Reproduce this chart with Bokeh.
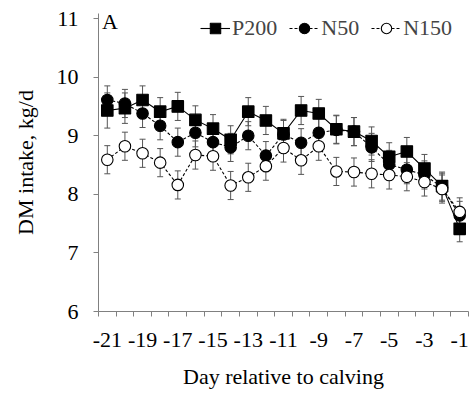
from bokeh.plotting import figure
from bokeh.models import FixedTicker, Whisker, ColumnDataSource, Legend, LegendItem, Label
from bokeh.embed import file_html
from bokeh.resources import INLINE

days = list(range(-21, 0))
p200 = [9.43, 9.47, 9.61, 9.41, 9.50, 9.27, 9.12, 8.93, 9.41, 9.26, 9.04, 9.43, 9.38, 9.11, 9.07, 8.91, 8.64, 8.73, 8.44, 8.14, 7.41]
n50 = [9.61, 9.55, 9.38, 9.17, 8.89, 9.05, 8.89, 8.80, 9.00, 8.66, 9.02, 8.88, 9.05, 9.10, 9.07, 8.80, 8.51, 8.42, 8.33, 8.12, 7.64]
n150 = [8.59, 8.82, 8.70, 8.54, 8.16, 8.67, 8.65, 8.15, 8.29, 8.48, 8.79, 8.58, 8.82, 8.39, 8.38, 8.35, 8.33, 8.30, 8.21, 8.09, 7.70]
p200_se = [0.30, 0.26, 0.24, 0.24, 0.24, 0.24, 0.24, 0.24, 0.24, 0.24, 0.24, 0.24, 0.24, 0.24, 0.24, 0.24, 0.24, 0.24, 0.24, 0.24, 0.22]
n50_se = [0.24] * 21
n150_se = [0.24] * 21
x_labels = [-21, -19, -17, -15, -13, -11, -9, -7, -5, -3, -1]
y_ticks = [6, 7, 8, 9, 10, 11]

FONT = "Liberation Serif"
FS = "22px"

p = figure(width=471, height=395, output_backend="svg", toolbar_location=None,
           x_range=(-21.5, -0.5), y_range=(6, 6 + 298 / 58.6),
           frame_width=370, frame_height=298,
           min_border_left=98, min_border_right=3, min_border_top=13, min_border_bottom=84)
p.outline_line_color = None
p.grid.visible = False
p.background_fill_color = "white"
p.border_fill_color = "white"

minor = [d - 0.5 for d in days] + [days[-1] + 0.5]
p.xaxis.ticker = FixedTicker(ticks=x_labels, minor_ticks=minor)
p.xaxis.major_label_overrides = {t: str(t) for t in x_labels}
p.xaxis.major_tick_out = 0
p.xaxis.major_tick_in = 0
p.xaxis.minor_tick_out = 5
p.xaxis.minor_tick_in = 0
p.yaxis.ticker = FixedTicker(ticks=y_ticks, minor_ticks=[])
p.yaxis.major_tick_out = 5
p.yaxis.major_tick_in = 0
p.yaxis.minor_tick_out = 0
for ax in (p.xaxis[0], p.yaxis[0]):
    ax.axis_line_color = "#808080"
    ax.major_tick_line_color = "#808080"
    ax.minor_tick_line_color = "#808080"
    ax.major_label_text_font = FONT
    ax.major_label_text_font_size = FS
    ax.major_label_text_font_style = "normal"
    ax.major_label_text_color = "black"
    ax.axis_label_text_font = FONT
    ax.axis_label_text_font_size = FS
    ax.axis_label_text_font_style = "normal"
    ax.axis_label_text_color = "black"
p.xaxis.major_label_standoff = 16
p.yaxis.major_label_standoff = 15
p.xaxis.axis_label = "Day relative to calving"
p.yaxis.axis_label = "DM intake, kg/d"
p.xaxis.axis_label_standoff = 14
p.yaxis.axis_label_standoff = 16

series = [
    ("P200", p200, p200_se, "square", "black", None),
    ("N50", n50, n50_se, "circle", "black", "3 2"),
    ("N150", n150, n150_se, "circle", "white", "3 2"),
]

for name, vals, se, marker, fill, dash in series:
    src = ColumnDataSource(dict(x=days, y=vals,
                                lo=[v - s for v, s in zip(vals, se)],
                                hi=[v + s for v, s in zip(vals, se)]))
    w = Whisker(source=src, base="x", lower="lo", upper="hi",
                line_color="#555555", line_width=1)
    w.upper_head.size = 6
    w.lower_head.size = 6
    w.upper_head.line_color = "#555555"
    w.lower_head.line_color = "#555555"
    p.add_layout(w)

items = []
for name, vals, se, marker, fill, dash in series:
    src = ColumnDataSource(dict(x=days, y=vals))
    kw = dict(line_color="black", line_width=1.1)
    if dash:
        kw["line_dash"] = dash
    ln = p.line("x", "y", source=src, **kw)
    sc = p.scatter("x", "y", source=src, marker=marker, size=11.5,
                   fill_color=fill, line_color="black", line_width=1.1)
    items.append(LegendItem(label=name, renderers=[ln, sc]))

legend = Legend(items=items, orientation="horizontal", location=(102, 270),
                label_text_font=FONT, label_text_font_style="normal",
                label_text_font_size=FS,
                glyph_width=30, glyph_height=26, label_standoff=2, spacing=12,
                padding=0, margin=0, border_line_color=None, background_fill_alpha=0)
p.add_layout(legend)

p.add_layout(Label(x=-21.3, y=10.95, text="A", text_font=FONT, text_font_size=FS,
                   text_baseline="middle", text_color="black"))

open("out.html", "w").write(file_html(p, INLINE))
